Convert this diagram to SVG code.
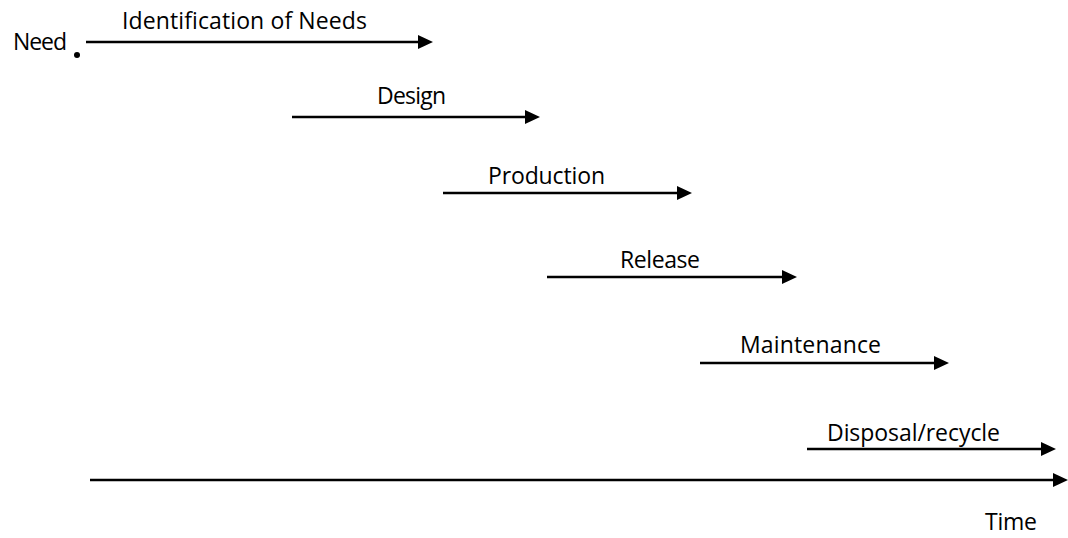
<svg xmlns="http://www.w3.org/2000/svg" width="1068" height="538" viewBox="0 0 1068 538">
  <style>
    .lbl { font-family: "Open Sans", "Noto Sans", "Liberation Sans", sans-serif; font-size: 23px; fill: #000; }
    .arr { stroke: #000; stroke-width: 2.5; fill: none; marker-end: url(#head); }
  </style>
  <defs>
    <marker id="head" markerUnits="userSpaceOnUse" markerWidth="15" markerHeight="14" refX="0" refY="7" orient="auto">
      <path d="M0,0 L15,7 L0,14 z" fill="#000"/>
    </marker>
  </defs>
  <rect width="1068" height="538" fill="#fff"/>

  <!-- phase arrows and time axis -->
  <g id="connectors">
    <line class="arr" x1="86" y1="42" x2="418" y2="42"/>
    <line class="arr" x1="292" y1="117" x2="525" y2="117"/>
    <line class="arr" x1="443" y1="193" x2="677" y2="193"/>
    <line class="arr" x1="547" y1="277" x2="782" y2="277"/>
    <line class="arr" x1="700" y1="363" x2="934" y2="363"/>
    <line class="arr" x1="807" y1="449" x2="1041" y2="449"/>
    <line class="arr" x1="90" y1="480" x2="1053" y2="480"/>
  </g>

  <g id="need">
    <text class="lbl" x="13" y="50" textLength="54">Need</text>
    <circle cx="77" cy="55" r="3" fill="#000"/>
  </g>
  <g id="identification">
    <text class="lbl" x="122" y="29" textLength="245">Identification of Needs</text>
  </g>
  <g id="design">
    <text class="lbl" x="377" y="104" textLength="69">Design</text>
  </g>
  <g id="production">
    <text class="lbl" x="488" y="184" textLength="117">Production</text>
  </g>
  <g id="release">
    <text class="lbl" x="620" y="268" textLength="80">Release</text>
  </g>
  <g id="maintenance">
    <text class="lbl" x="740" y="353" textLength="141">Maintenance</text>
  </g>
  <g id="disposal">
    <text class="lbl" x="827" y="441" textLength="173">Disposal/recycle</text>
  </g>
  <g id="time">
    <text class="lbl" x="985" y="530" textLength="52">Time</text>
  </g>
</svg>
